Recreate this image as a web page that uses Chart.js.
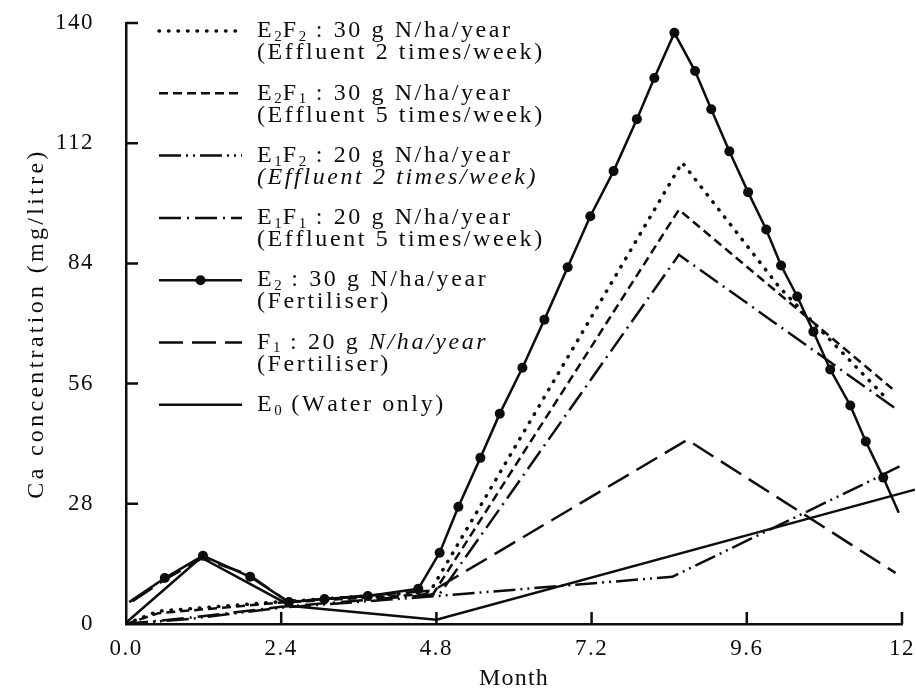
<!DOCTYPE html>
<html>
<head>
<meta charset="utf-8">
<title>Ca concentration by month</title>
<script src="https://cdn.jsdelivr.net/npm/chart.js@4.4.1/dist/chart.umd.min.js"></script>
<style>
  html, body { margin: 0; padding: 0; background: #fff; }
  #chartBox { width: 916px; height: 692px; }
</style>
</head>
<body>
<div id="chartBox"><canvas id="caChart" width="916" height="692"></canvas></div>
<script>
// AXES
const xTickValues = [0, 2.4, 4.8, 7.2, 9.6, 12];
const xTickLabels = ['0.0', '2.4', '4.8', '7.2', '9.6', '12'];
const yTickValues = [0, 28, 56, 84, 112, 140];
const xTitle = 'Month';
const yTitle = 'Ca concentration (mg/litre)';

// SERIES (month, Ca mg/litre)
const e2f2Months = [0, 0.5, 2.4, 4.7, 8.6, 10.1, 11.75];
const e2f2Ca = [0, 3, 5.2, 7.5, 107.5, 78.5, 52.7];

const e2f1Months = [0, 0.5, 2.4, 4.75, 8.55, 11.85];
const e2f1Ca = [0, 2.5, 5, 7, 96.5, 54.8];

const e1f2Months = [0, 1, 2.4, 4.8, 8.45, 11.6, 12];
const e1f2Ca = [0, 1.2, 3.8, 6.5, 11, 34, 37];

const e1f1Months = [0, 1, 2.4, 4.85, 8.55, 11.9];
const e1f1Ca = [0, 1.5, 4, 7, 86, 50.2];

const e2Months = [0.05, 0.6, 1.19, 1.92, 2.52, 3.07, 3.74, 4.52, 4.85, 5.14, 5.48, 5.78, 6.13, 6.47, 6.83, 7.18, 7.54,
  7.9, 8.17, 8.48, 8.8, 9.05, 9.33, 9.62, 9.9, 10.13, 10.38, 10.63, 10.89, 11.2, 11.44, 11.71, 11.95];
const e2Ca = [5.1, 10.7, 15.9, 11, 5.1, 5.8, 6.5, 8.2, 16.6, 27.3, 38.7, 49, 59.7, 70.9, 83.1, 95, 105.5,
  117.6, 127.2, 137.7, 128.8, 119.9, 110.1, 100.6, 91.9, 83.5, 76.3, 68.1, 59.3, 50.9, 42.5, 34.1, 25.9];

const f1Months = [0.1, 0.6, 1.17, 1.9, 2.5, 4.75, 8.68, 11.9];
const f1Ca = [5.3, 10.3, 15.3, 11.5, 5.2, 7.8, 42.9, 11.9];

const e0Months = [0, 1.16, 2.55, 4.8, 12.2];
const e0Ca = [0.3, 15.5, 4.2, 1, 31.3];

// LEGEND TEXT ( _x = subscript, *...* = italic )
const legendLabels = [
  ['E_2F_2 : 30 g N/ha/year', '(Effluent 2 times/week)'],
  ['E_2F_1 : 30 g N/ha/year', '(Effluent 5 times/week)'],
  ['E_1F_2 : 20 g N/ha/year', '*(Effluent 2 times/week)*'],
  ['E_1F_1 : 20 g N/ha/year', '(Effluent 5 times/week)'],
  ['E_2 : 30 g N/ha/year', '(Fertiliser)'],
  ['F_1 : 20 g *N/ha/year*', '(Fertiliser)'],
  ['E_0 (Water only)']
];

const INK = '#0d0d0d';
const FONT = 'Liberation Serif';

function toPoints(months, values) {
  return months.map((m, i) => ({ x: m, y: values[i] }));
}

// E2 has no dot where its line starts and ends
const e2Radius = e2Months.map((m, i) => (i === 0 || i === e2Months.length - 1) ? 0 : 5);

// DRAW TEXT WITH SUBSCRIPTS / ITALICS
function drawRichText(ctx, text, x, y) {
  let italic = false;
  ctx.letterSpacing = '0px';
  ctx.textBaseline = 'middle';
  ctx.textAlign = 'left';
  ctx.fillStyle = INK;
  for (let i = 0; i < text.length; i++) {
    let ch = text[i];
    if (ch === '*') { italic = !italic; continue; }
    let sub = false;
    if (ch === '_') { sub = true; ch = text[++i]; }
    ctx.font = (italic ? 'italic ' : '') + (sub ? 15 : 24) + 'px "' + FONT + '"';
    ctx.fillText(ch, x, sub ? y + 6 : y);
    x += ctx.measureText(ch).width + (sub ? 1 : 2.6);
  }
}

// PLUGINS
const spacingPlugin = {
  id: 'spacing',
  beforeDraw(chart) {
    chart.ctx.letterSpacing = '1.5px';
  }
};

const inwardTicks = {
  id: 'inwardTicks',
  afterDraw(chart) {
    const ctx = chart.ctx;
    const area = chart.chartArea;
    const xs = chart.scales.x;
    const ys = chart.scales.y;
    ctx.save();
    ctx.strokeStyle = INK;
    ctx.lineWidth = 2.5;
    ctx.beginPath();
    xTickValues.slice(1).forEach(v => {
      const px = xs.getPixelForValue(v);
      ctx.moveTo(px, area.bottom);
      ctx.lineTo(px, area.bottom - 12);
    });
    yTickValues.slice(1).forEach(v => {
      const py = ys.getPixelForValue(v);
      ctx.moveTo(area.left, py);
      ctx.lineTo(area.left + 12, py);
    });
    ctx.stroke();
    ctx.restore();
  }
};

const axisTitles = {
  id: 'axisTitles',
  afterDraw(chart) {
    const ctx = chart.ctx;
    const area = chart.chartArea;
    ctx.save();
    ctx.fillStyle = INK;
    ctx.textAlign = 'center';
    ctx.textBaseline = 'middle';
    ctx.font = '24px "' + FONT + '"';
    ctx.letterSpacing = '1.2px';
    ctx.fillText(xTitle, (area.left + area.right) / 2, 679);
    ctx.translate(37, (area.top + area.bottom) / 2);
    ctx.rotate(-Math.PI / 2);
    ctx.letterSpacing = '3.3px';
    ctx.fillText(yTitle, 0, 0);
    ctx.restore();
  }
};

const caLegend = {
  id: 'caLegend',
  afterDraw(chart) {
    const ctx = chart.ctx;
    const area = chart.chartArea;
    const x0 = area.left + 33;
    const x1 = area.left + 116;
    const tx = area.left + 131;
    chart.data.datasets.forEach((ds, i) => {
      const y = area.top + 8 + i * 62.3;
      ctx.save();
      ctx.strokeStyle = INK;
      ctx.lineWidth = ds.borderWidth;
      ctx.setLineDash(ds.borderDash || []);
      ctx.lineCap = ds.borderCapStyle || 'butt';
      ctx.beginPath();
      ctx.moveTo(x0, y);
      ctx.lineTo(x1, y);
      ctx.stroke();
      if (ds.legendDot) {
        ctx.fillStyle = INK;
        ctx.beginPath();
        ctx.arc((x0 + x1) / 2, y, 5, 0, Math.PI * 2);
        ctx.fill();
      }
      legendLabels[i].forEach((line, j) => drawRichText(ctx, line, tx, y + j * 22));
      ctx.restore();
    });
  }
};

// CHART
const baseLine = { borderColor: INK, backgroundColor: INK, borderWidth: 2.5, pointRadius: 0, tension: 0, fill: false };

const datasets = [
  { ...baseLine, label: 'E2F2', data: toPoints(e2f2Months, e2f2Ca), borderWidth: 3.5, borderDash: [0.5, 9], borderCapStyle: 'round' },
  { ...baseLine, label: 'E2F1', data: toPoints(e2f1Months, e2f1Ca), borderDash: [9, 5] },
  { ...baseLine, label: 'E1F2', data: toPoints(e1f2Months, e1f2Ca), borderDash: [22, 5, 2, 5, 2, 5] },
  { ...baseLine, label: 'E1F1', data: toPoints(e1f1Months, e1f1Ca), borderDash: [22, 6, 2, 6] },
  { ...baseLine, label: 'E2', data: toPoints(e2Months, e2Ca), borderWidth: 2.5, pointRadius: e2Radius, pointBorderWidth: 0, pointBackgroundColor: INK, legendDot: true },
  { ...baseLine, label: 'F1', data: toPoints(f1Months, f1Ca), borderDash: [24, 9] },
  { ...baseLine, label: 'E0', data: toPoints(e0Months, e0Ca), clip: false }
];

Chart.defaults.font.family = FONT;
Chart.defaults.color = INK;

new Chart(document.getElementById('caChart'), {
  type: 'line',
  data: { datasets: datasets },
  plugins: [spacingPlugin, inwardTicks, axisTitles, caLegend],
  options: {
    responsive: false,
    animation: false,
    devicePixelRatio: 1,
    layout: { padding: { top: 23, right: 14, left: 0, bottom: 0 } },
    plugins: { legend: { display: false }, tooltip: { enabled: false } },
    scales: {
      x: {
        type: 'linear',
        min: 0,
        max: 12,
        afterBuildTicks: s => { s.ticks = xTickValues.map(v => ({ value: v })); },
        afterFit: s => { s.height = 68; s.paddingLeft = 0; s.paddingRight = 0; },
        ticks: { callback: (v, i) => xTickLabels[i], font: { size: 23 }, padding: 11, maxRotation: 0, autoSkip: false },
        grid: { display: false, drawTicks: false },
        border: { display: true, color: INK, width: 2.5 }
      },
      y: {
        min: 0,
        max: 140,
        afterBuildTicks: s => { s.ticks = yTickValues.map(v => ({ value: v })); },
        afterFit: s => { s.width = 126; s.paddingTop = 0; s.paddingBottom = 0; },
        ticks: { font: { size: 23 }, padding: 32 },
        grid: { display: false, drawTicks: false },
        border: { display: true, color: INK, width: 2.5 }
      }
    }
  }
});
</script>
</body>
</html>
